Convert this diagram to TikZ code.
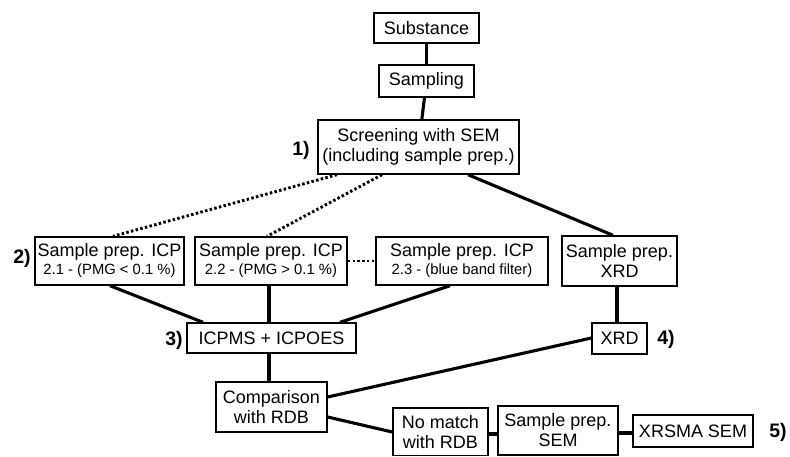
\documentclass[tikz,border=0pt]{standalone}
\usepackage{fontspec}
\setmainfont{Liberation Sans}
\begin{document}
\begin{tikzpicture}[x=1pt,y=-1pt,
  box/.style={draw=black,line width=1.4pt,inner sep=0pt,align=center,
    font=\fontsize{18}{20}\selectfont},
  lnk/.style={line width=3.1pt},
  dotlnk/.style={line width=2.9pt,dash pattern=on 2.5pt off 2.3pt},
  lbl/.style={font=\fontsize{19.5}{21}\selectfont\bfseries,inner sep=0pt}]
\newcommand{\sm}{\fontsize{14.8}{18}\selectfont}
\useasboundingbox (0,0) rectangle (790,456);
\node[box,minimum width=105pt,minimum height=30pt] (sub) at (426.5,28) {Substance};
\node[box,minimum width=95pt,minimum height=32pt] (samp) at (426.5,81) {Sampling};
\node[box,minimum width=201pt,minimum height=54pt] (scr) at (418.5,147) {Screening with SEM\\(including sample prep.)};
\node[box,minimum width=149pt,minimum height=48pt] (p21) at (109.5,261) {Sample prep. ICP\\[-2pt]{\sm 2.1 - (PMG < 0.1 \%)}};
\node[box,minimum width=152pt,minimum height=48pt] (p22) at (271,261) {Sample prep. ICP\\[-2pt]{\sm 2.2 - (PMG > 0.1 \%)}};
\node[box,minimum width=172pt,minimum height=48pt] (p23) at (462,261) {Sample prep. ICP\\[-2pt]{\sm 2.3 - (blue band filter)}};
\node[box,minimum width=115pt,minimum height=50pt] (pxrd) at (619.5,261) {Sample prep.\\XRD};
\node[box,minimum width=169pt,minimum height=30pt] (icp) at (271.5,338) {ICPMS + ICPOES};
\node[box,minimum width=55pt,minimum height=31pt] (xrd) at (619.5,338.5) {XRD};
\node[box,minimum width=111pt,minimum height=50pt] (cmp) at (271.5,407) {Comparison\\with RDB};
\node[box,minimum width=95pt,minimum height=47.5pt] (nom) at (440.5,431.75) {No match\\with RDB};
\node[box,minimum width=120pt,minimum height=49pt] (sem) at (558,430.5) {Sample prep.\\SEM};
\node[box,minimum width=120pt,minimum height=32pt] (xrs) at (693,431) {XRSMA SEM};
\node[lbl] (l1) at (301,150) {1)};
\node[lbl] (l2) at (22,258) {2)};
\node[lbl] (l3) at (174,340) {3)};
\node[lbl] (l4) at (666,339) {4)};
\node[lbl] (l5) at (778,432) {5)};
\draw[lnk] (sub) -- (samp);
\draw[lnk] (samp) -- (scr);
\draw[dotlnk] (scr.south -| 337,0) -- (p21.north -| 113,0);
\draw[dotlnk] (scr.south -| 382,0) -- (p22.north -| 267,0);
\draw[dotlnk] (p22.east) -- (p23.west);
\draw[lnk] (scr.south -| 468,0) -- (pxrd.north -| 613,0);
\draw[lnk] (p21.south -| 110,0) -- (icp.north -| 203,0);
\draw[lnk] (p22.south -| 269,0) -- (icp.north -| 269,0);
\draw[lnk] (p23.south -| 450,0) -- (icp.north -| 340,0);
\draw[lnk] (pxrd.south -| 617,0) -- (xrd.north -| 617,0);
\draw[lnk] (icp.south -| 269,0) -- (cmp.north -| 269,0);
\draw[lnk] (cmp.east |- 0,397) -- (xrd.west |- 0,338);
\draw[lnk] (cmp.east |- 0,417) -- (nom.west |- 0,432);
\draw[lnk] (nom.east |- 0,434) -- (sem.west |- 0,434);
\draw[lnk] (sem.east |- 0,433) -- (xrs.west |- 0,433);
\end{tikzpicture}
\end{document}
